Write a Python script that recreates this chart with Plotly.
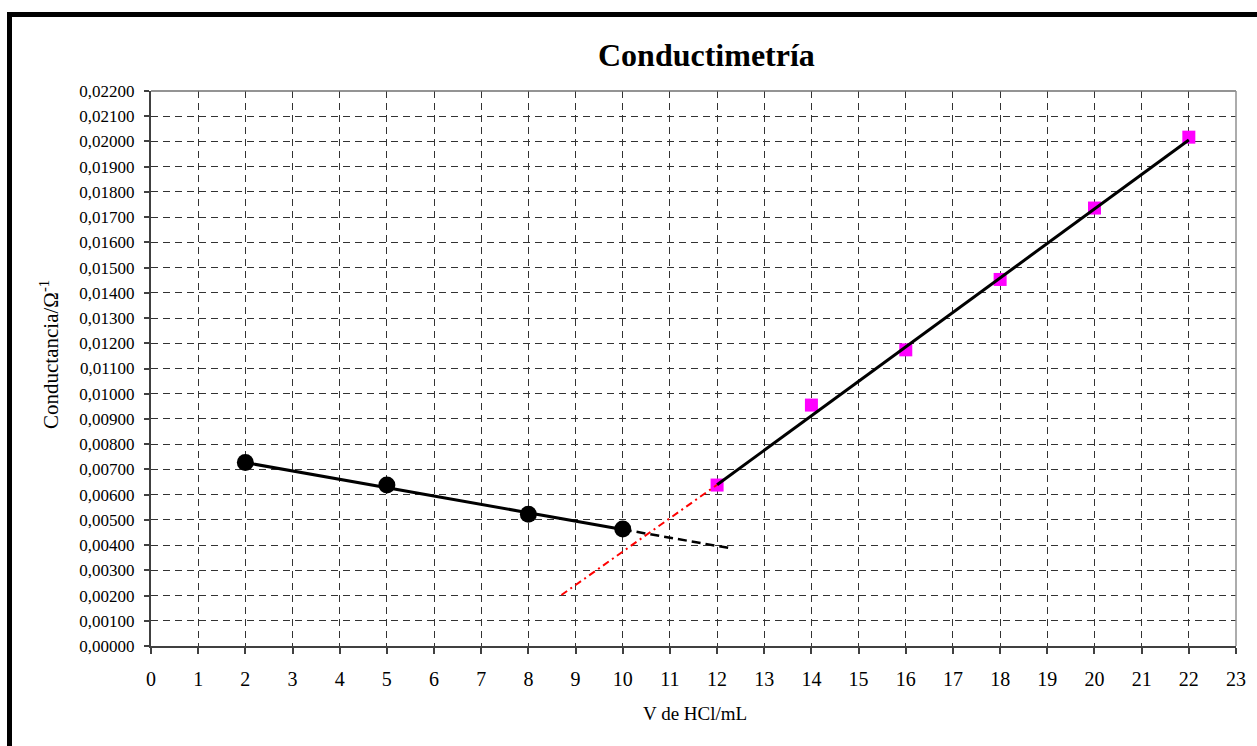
import plotly.graph_objects as go

# ---- data ----
vol_before = [2, 5, 8, 10]
cond_before = [0.00727, 0.00638, 0.00522, 0.00464]

vol_after = [12, 14, 16, 18, 20, 22]
cond_after = [0.00638, 0.00955, 0.01174, 0.01453, 0.01736, 0.02017]

# trend lines drawn on the chart
trend_before_x = [2, 10]
trend_before_y = [0.00727, 0.00462]
ext_before_x = [10, 12.3]
ext_before_y = [0.00462, 0.00387]

trend_after_x = [12, 22]
trend_after_y = [0.00639, 0.02006]
ext_after_x = [8.7, 12]
ext_after_y = [0.00202, 0.00639]

x_ticks = list(range(0, 24))

FONT = "Liberation Serif"

fig = go.Figure()

fig.add_trace(go.Scatter(x=vol_before, y=cond_before, mode="markers",
                         marker=dict(symbol="circle", size=17, color="black"),
                         showlegend=False))
fig.add_trace(go.Scatter(x=vol_after, y=cond_after, mode="markers",
                         marker=dict(symbol="square", size=13, color="#FF00FF"),
                         showlegend=False))
fig.add_trace(go.Scatter(x=trend_before_x, y=trend_before_y, mode="lines",
                         line=dict(color="black", width=3), showlegend=False))
fig.add_trace(go.Scatter(x=ext_before_x, y=ext_before_y, mode="lines",
                         line=dict(color="black", width=2.5, dash="9px,5px"),
                         showlegend=False))
fig.add_trace(go.Scatter(x=trend_after_x, y=trend_after_y, mode="lines",
                         line=dict(color="black", width=3), showlegend=False))
fig.add_trace(go.Scatter(x=ext_after_x, y=ext_after_y, mode="lines",
                         line=dict(color="red", width=2, dash="7px,4px,2px,4px"),
                         showlegend=False))

L, R, T, B = 151, 21, 91, 100
W, H = 1257, 746
pw, ph = W - L - R, H - T - B

def px(xp):
    return (xp - L) / pw

def py(yp):
    return (H - B - yp) / ph

fig.update_layout(
    width=W, height=H, autosize=False,
    margin=dict(l=L, r=R, t=T, b=B),
    paper_bgcolor="white", plot_bgcolor="white",
    separators=",.",
    font=dict(family=FONT, color="black"),
    xaxis=dict(range=[0, 23], tickvals=x_ticks, showgrid=True,
               gridcolor="#333333", griddash="7px,5px", gridwidth=1,
               showline=True, linecolor="#404040", linewidth=2,
               ticks="outside", ticklen=6, tickcolor="#404040", tickwidth=1.5,
               tickfont=dict(family=FONT, size=20, color="black"),
               ticklabelstandoff=8, zeroline=False, fixedrange=True),
    yaxis=dict(range=[0, 0.022], dtick=0.001, tick0=0, tickformat=".5f",
               showgrid=True, gridcolor="#333333", griddash="7px,5px", gridwidth=1,
               showline=True, linecolor="#404040", linewidth=2,
               ticks="outside", ticklen=5, tickcolor="#404040", tickwidth=1.5,
               tickfont=dict(family=FONT, size=17, color="black"),
               ticklabelstandoff=6, zeroline=False, fixedrange=True),
    shapes=[
        dict(type="line", xref="paper", yref="paper", x0=0, x1=1, y0=1, y1=1,
             line=dict(color="#707070", width=1.5), layer="above"),
        dict(type="line", xref="paper", yref="paper", x0=1, x1=1, y0=0, y1=1,
             line=dict(color="#909090", width=1.5), layer="above"),
        dict(type="rect", xref="paper", yref="paper",
             x0=px(9.5), x1=px(W + 20), y0=py(H + 20), y1=py(14.5),
             line=dict(color="black", width=5), layer="above"),
    ],
    annotations=[
        dict(text="<b>Conductimetría</b>", xref="paper", yref="paper",
             x=px(706), y=py(55), xanchor="center", yanchor="middle",
             showarrow=False, font=dict(family=FONT, size=32, color="black")),
        dict(text="V de HCl/mL", xref="paper", yref="paper",
             x=px(695), y=py(713), xanchor="center", yanchor="middle",
             showarrow=False, font=dict(family=FONT, size=19, color="black")),
        dict(text="Conductancia/Ω<sup>-1</sup>", xref="paper", yref="paper",
             x=px(49), y=py(355), xanchor="center", yanchor="middle",
             textangle=-90, showarrow=False,
             font=dict(family=FONT, size=21, color="black")),
    ],
)

fig.write_html("out.html", config={"displayModeBar": False})

# remove the default page margin so the figure sits at the window origin
with open("out.html", "r", encoding="utf-8") as f:
    html = f.read()
html = html.replace("<body>", '<body style="margin:0;overflow:hidden">', 1)
with open("out.html", "w", encoding="utf-8") as f:
    f.write(html)
